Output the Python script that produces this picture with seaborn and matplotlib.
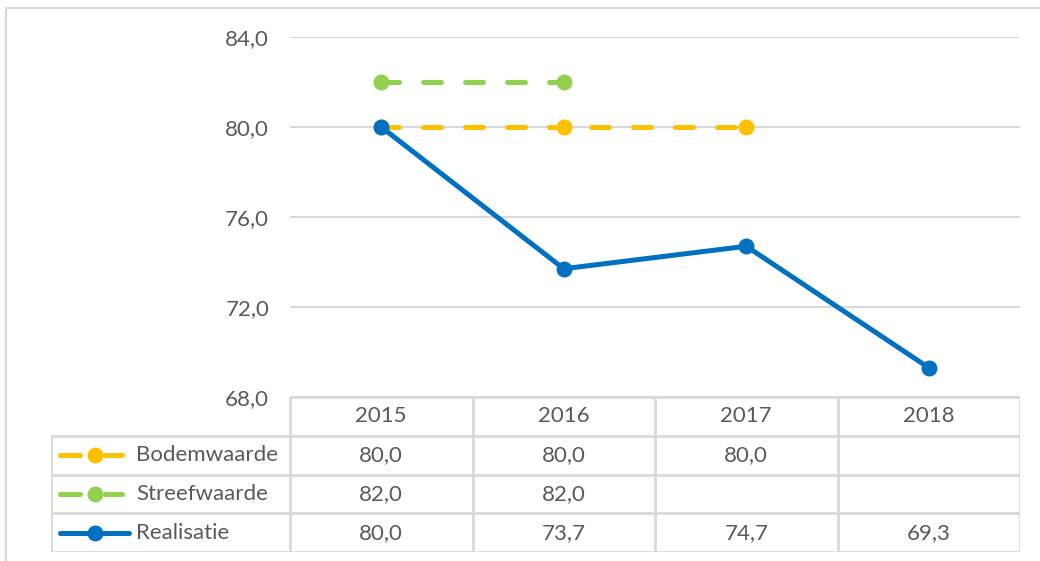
import numpy as np
import pandas as pd
import seaborn as sns
import matplotlib.pyplot as plt
from matplotlib.lines import Line2D
from matplotlib.patches import Rectangle

years = ['2015', '2016', '2017', '2018']
bodemwaarde = [80.0, 80.0, 80.0, np.nan]
streefwaarde = [82.0, 82.0, np.nan, np.nan]
realisatie = [80.0, 73.7, 74.7, 69.3]
series_names = ['Bodemwaarde', 'Streefwaarde', 'Realisatie']
series_values = [bodemwaarde, streefwaarde, realisatie]
colors = {'Bodemwaarde': '#FFC000', 'Streefwaarde': '#92D050', 'Realisatie': '#0070C0'}
y_ticks = [68, 72, 76, 80, 84]

rows = []
for name, vals in zip(series_names, series_values):
    for y, v in zip(years, vals):
        rows.append({'jaar': y, 'waarde': v, 'reeks': name})
df = pd.DataFrame(rows)

sns.set_style('white')
plt.rcParams['font.family'] = ['Lato', 'DejaVu Sans']
txt_color = '#595959'
grid_color = '#d9d9d9'
fs = 16
W, H = 1040, 561

fig = plt.figure(figsize=(10.4, 5.61), dpi=100)

# plot area
x0, x1, y_top, y_bot = 290, 1020, 37, 397
ax = fig.add_axes([x0 / W, 1 - y_bot / H, (x1 - x0) / W, (y_bot - y_top) / H])
lw = 3.6
ms = 11.5
dash = (3.6, 4.8)
sns.lineplot(data=df, x='jaar', y='waarde', hue='reeks', style='reeks',
             palette=colors, hue_order=series_names, style_order=series_names,
             dashes={'Bodemwaarde': dash, 'Streefwaarde': dash, 'Realisatie': ''},
             markers={'Bodemwaarde': 'o', 'Streefwaarde': 'o', 'Realisatie': 'o'},
             markersize=ms, markeredgewidth=0, linewidth=lw, legend=False,
             ax=ax, sort=False)
for ln in ax.lines:
    ln.set_dash_capstyle('round')
    ln.set_solid_capstyle('round')
ax.set_xlim(-0.5, len(years) - 0.5)
ax.set_ylim(68, 84)
ax.set_yticks(y_ticks)
ax.set_yticklabels([f'{t:.1f}'.replace('.', ',') for t in y_ticks])
ax.set_xticks([])
ax.set_xlabel('')
ax.set_ylabel('')
ax.tick_params(axis='y', length=0, pad=15, labelsize=fs, labelcolor=txt_color)
ax.grid(axis='y', color=grid_color, linewidth=1.5)
ax.set_axisbelow(True)
for s in ax.spines.values():
    s.set_visible(False)

# data table
tx0, ty0, ty1 = 51, 397, 552
tax = fig.add_axes([tx0 / W, 1 - ty1 / H, (x1 - tx0) / W, (ty1 - ty0) / H])
tax.set_xlim(tx0, x1)
tax.set_ylim(ty1, ty0)
tax.axis('off')
row_h = (ty1 - ty0) / 4
col_w = (x1 - x0) / len(years)
lkw = dict(color=grid_color, linewidth=2, solid_capstyle='projecting')
tax.plot([x0, x1], [ty0, ty0], **lkw)
for i in range(1, 5):
    tax.plot([tx0, x1], [ty0 + i * row_h] * 2, **lkw)
tax.plot([tx0, tx0], [ty0 + row_h, ty1], **lkw)
for j in range(len(years) + 1):
    tax.plot([x0 + j * col_w] * 2, [ty0, ty1], **lkw)
for j, y in enumerate(years):
    tax.text(x0 + (j + 0.5) * col_w, ty0 + 0.5 * row_h, y, ha='center', va='center',
             fontsize=fs, color=txt_color)
for i, (name, vals) in enumerate(zip(series_names, series_values)):
    yc = ty0 + (i + 1.5) * row_h
    for j, v in enumerate(vals):
        if not np.isnan(v):
            tax.text(x0 + (j + 0.5) * col_w, yc, f'{v:.1f}'.replace('.', ','),
                     ha='center', va='center', fontsize=fs, color=txt_color)
    if name == 'Realisatie':
        tax.add_line(Line2D([60, 129], [yc, yc], color=colors[name], linewidth=lw,
                            solid_capstyle='round'))
    else:
        tax.add_line(Line2D([60, 80], [yc, yc], color=colors[name], linewidth=lw,
                            solid_capstyle='round'))
        tax.add_line(Line2D([105, 122], [yc, yc], color=colors[name], linewidth=lw,
                            solid_capstyle='round'))
    tax.add_line(Line2D([95], [yc], marker='o', markersize=ms, markeredgewidth=0,
                        color=colors[name], linestyle=''))
    tax.text(136, yc, name, ha='left', va='center', fontsize=fs, color=txt_color)

# outer frame
fig.add_artist(Rectangle((5.5 / W, -0.5), 2, 1 - 7.5 / H + 0.5, transform=fig.transFigure,
                         fill=False, edgecolor=grid_color, linewidth=1.5))

fig.savefig('out.png', dpi=100)
